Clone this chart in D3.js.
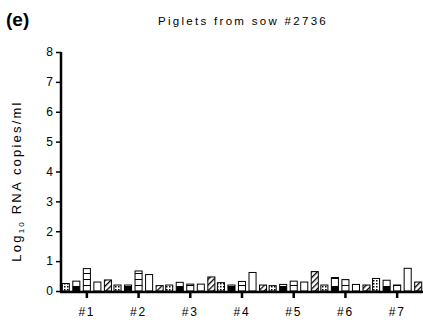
<!DOCTYPE html>
<html><head><meta charset="utf-8">
<script src="https://cdn.jsdelivr.net/npm/d3@7"></script>
<style>body{margin:0;background:#fff}svg{display:block}text{font-family:"Liberation Sans",Arial,sans-serif}</style>
</head><body>
<svg id="c" width="423" height="320"></svg>
<script>
const groups = ["#1","#2","#3","#4","#5","#6","#7"];
const seriesNames = ["s1","s2","s3","s4","s5"];
const s1 = [0.25, 0.20, 0.20, 0.28, 0.18, 0.20, 0.42];
const s2 = [0.33, 0.20, 0.29, 0.20, 0.22, 0.45, 0.36];
const s3 = [0.75, 0.67, 0.23, 0.32, 0.33, 0.38, 0.20];
const s4 = [0.30, 0.55, 0.23, 0.62, 0.30, 0.22, 0.76];
const s5 = [0.37, 0.18, 0.47, 0.20, 0.65, 0.20, 0.30];
const yTicks = [0,1,2,3,4,5,6,7,8];
const seriesVals = [s1,s2,s3,s4,s5];

const svg = d3.select("#c");
const x0 = 61, x1 = 423, yTop = 52, yBot = 291;
const x = d3.scaleBand().domain(groups).range([x0, x1]).padding(0);
const xi = d3.scaleBand().domain(seriesNames).range([0, x.bandwidth()]).paddingInner(0.33).paddingOuter(0.12);
const y = d3.scaleLinear().domain([0, 8]).range([yBot, yTop]);

const defs = svg.append("defs");
const p1 = defs.append("pattern").attr("id","p1").attr("patternUnits","userSpaceOnUse").attr("width",3).attr("height",3);
p1.append("rect").attr("width",3).attr("height",3).attr("fill","#fff");
p1.append("rect").attr("x",1).attr("y",1).attr("width",1.5).attr("height",1.5).attr("fill","#000");
const p2 = defs.append("pattern").attr("id","p2").attr("patternUnits","userSpaceOnUse").attr("width",10).attr("height",12)
  .attr("patternTransform","translate(0," + (yBot) + ")");
p2.append("rect").attr("width",10).attr("height",12).attr("fill","#fff");
p2.append("rect").attr("y",7).attr("width",10).attr("height",5).attr("fill","#000");
const p3 = defs.append("pattern").attr("id","p3").attr("patternUnits","userSpaceOnUse").attr("width",10).attr("height",6)
  .attr("patternTransform","translate(0," + (yBot) + ")");
p3.append("rect").attr("width",10).attr("height",6).attr("fill","#fff");
p3.append("rect").attr("y",0).attr("width",10).attr("height",1).attr("fill","#000");
const p5 = defs.append("pattern").attr("id","p5").attr("patternUnits","userSpaceOnUse").attr("width",4).attr("height",4)
  .attr("patternTransform","rotate(-45)");
p5.append("rect").attr("width",4).attr("height",4).attr("fill","#fff");
p5.append("rect").attr("width",4).attr("height",1.3).attr("fill","#000");

const fills = ["url(#p1)","url(#p2)","url(#p3)","#fff","url(#p5)"];

groups.forEach((g, gi) => {
  seriesNames.forEach((s, si) => {
    const v = seriesVals[si][gi];
    svg.append("rect")
      .attr("x", x(g) + xi(s))
      .attr("y", y(v))
      .attr("width", xi.bandwidth())
      .attr("height", y(0) - y(v))
      .attr("fill", fills[si])
      .attr("stroke", "#000")
      .attr("stroke-width", 1);
  });
});

const ya = svg.append("g").attr("transform", `translate(${x0},0)`)
  .call(d3.axisLeft(y).tickValues(yTicks).tickSize(5).tickPadding(3).tickFormat(d3.format("d")));
ya.select(".domain").attr("stroke-width", 2.5).attr("d", `M0,${yTop}V${yBot+1.5}`);
ya.selectAll(".tick line").attr("stroke-width", 1.5);
ya.selectAll(".tick text").attr("font-size", 12).attr("fill","#000");

const xa = svg.append("g").attr("transform", `translate(0,${yBot+1})`)
  .call(d3.axisBottom(x).tickSize(6).tickPadding(9));
xa.select(".domain").attr("stroke-width", 2.5).attr("d", `M${x0-1},0H${x1}`);
xa.selectAll(".tick line").attr("stroke-width", 2.5);
xa.selectAll(".tick text").attr("font-size", 12).attr("letter-spacing", "1.8px").attr("fill","#000");

svg.append("text").attr("x", 243).attr("y", 25).attr("text-anchor","middle")
  .attr("font-size", 11.5).attr("letter-spacing","2.3px").text("Piglets from sow #2736");
svg.append("text").attr("x", 6).attr("y", 26).attr("font-size", 19).attr("font-weight","bold").text("(e)");

const yt = svg.append("text").attr("transform", `translate(21,181) rotate(-90)`)
  .attr("text-anchor","middle").attr("font-size", 13).attr("letter-spacing","2.2px");
yt.append("tspan").text("Log");
yt.append("tspan").attr("font-size", 8).attr("dy", 3).text("10");
yt.append("tspan").attr("dy", -3).text(" RNA copies/ml");
</script>
</body></html>
